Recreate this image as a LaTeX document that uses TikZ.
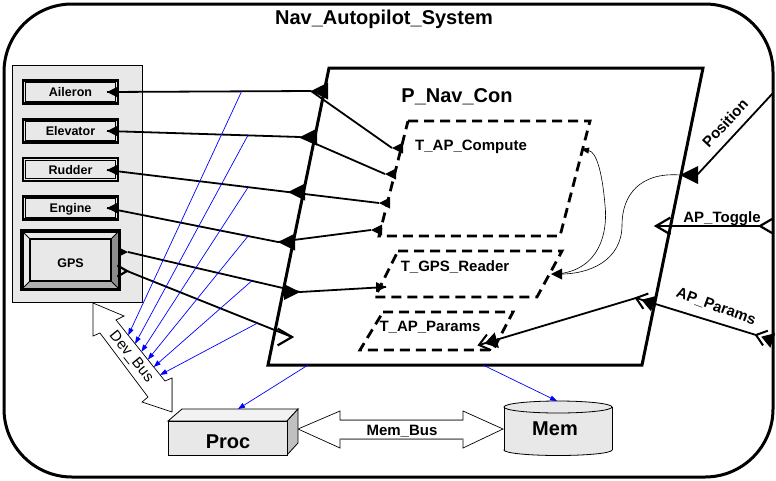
\documentclass[tikz,border=0pt]{standalone}
\usepackage{fontspec}
\setmainfont{Liberation Sans}
\usetikzlibrary{arrows.meta,calc}
\definecolor{devgray}{HTML}{E8E8E8}
\definecolor{bevel}{HTML}{8C8C8C}
\definecolor{sidegray}{HTML}{C0C0C0}
\definecolor{topgray}{HTML}{F2F2F2}

\tikzset{
  conn/.style={line width=1.8pt},
  thread/.style={line width=2.8pt, dash pattern=on 10pt off 6pt},
  bind/.style={blue, line width=.7pt, -{Triangle[length=7pt,width=5pt]}},
  flow/.style={line width=.6pt},
  device/.style={draw, line width=2.6pt, fill=devgray, minimum width=95pt,
    minimum height=23pt, inner sep=0pt, text height=9pt, text depth=0pt,
    font=\bfseries\fontsize{12.5}{14}\selectfont},
  lbl/.style={font=\bfseries\fontsize{15}{17}\selectfont, inner sep=0pt},
  big/.style={font=\bfseries\fontsize{20}{22}\selectfont, inner sep=0pt},
  dport/.pic={\fill (0,0) -- (10,-5) -- (10,5) -- cycle;},
  eport/.pic={\draw[line width=2.2pt] (12,-7) -- (0,0) -- (12,7);},
  edport/.pic={\draw[line width=2pt] (9,-7) -- (0,0) -- (9,7);
    \fill (5,0) -- (16,-7) -- (16,7) -- cycle;}
}

\begin{document}
\begin{tikzpicture}[x=1pt,y=-1pt]
    \useasboundingbox (0,0) rectangle (776,480);

    \draw[line width=3pt, rounded corners=68pt] (4,4) rectangle (773,477);
    \node[big, anchor=base] (sys) at (384,24) {Nav\_Autopilot\_System};

    \draw[fill=devgray, line width=.8pt] (12,65) rectangle (142,302);
    \node[device] (ail) at (70.5,92) {Aileron};
    \node[device] (elev) at (70.5,131) {Elevator};
    \node[device] (rud) at (70.5,169.5) {Rudder};
    \node[device] (eng) at (70.5,208) {Engine};
    \foreach \d in {ail,elev,rud,eng}
        \draw[line width=.9pt] ([shift={(3.5,3.5)}]\d.north west) rectangle ([shift={(-3.5,-3.5)}]\d.south east);

    \node[draw, line width=2.6pt, fill=devgray, minimum width=95pt, minimum height=56pt] (gps) at (70.5,260) {};
    \fill[bevel] (118,232) -- (118,288) -- (111,281) -- (111,239) -- cycle;
    \fill[bevel!70] (23,288) -- (118,288) -- (111,281) -- (30,281) -- cycle;
    \draw[line width=1.6pt] (30,239) rectangle (111,281);
    \draw[line width=.8pt] (23,232) -- (30,239) (118,232) -- (111,239) (23,288) -- (30,281) (118,288) -- (111,281);
    \draw[line width=2.6pt] (gps.north west) rectangle (gps.south east);
    \node[font=\bfseries\fontsize{12.5}{14}\selectfont, anchor=base] (gpsl) at (70.5,267) {GPS};

    \draw[line width=3pt, fill=white] (329,68) -- (703,68) -- (642,365) -- (268,365) -- cycle;
    \node[big, anchor=base] (pnav) at (457,102) {P\_Nav\_Con};

    \draw[thread] (408,121) -- (590,121) -- (560,236) -- (379,236) -- cycle;
    \node[lbl, anchor=base] (tcomp) at (471,150) {T\_AP\_Compute};
    \draw[thread] (398,251) -- (562,251) -- (537,297) -- (375,297) -- cycle;
    \node[lbl, anchor=base] (tgps) at (455,271.5) {T\_GPS\_Reader};
    \draw[thread] (383,312) -- (513,312) -- (493,350) -- (360,350) -- cycle;
    \node[lbl, anchor=base] (tparams) at (430,331.5) {T\_AP\_Params};

    \coordinate (ailIn) at (107,92);
    \coordinate (elevIn) at (107,131);
    \coordinate (rudIn) at (107,170);
    \coordinate (engIn) at (107,208);
    \coordinate (pAil) at (311,91);
    \coordinate (pElev) at (300,137);
    \coordinate (pRud) at (288,192);
    \coordinate (pEng) at (278,242);
    \coordinate (tAil) at (392,148);
    \coordinate (tElev) at (385,174);
    \coordinate (tRud) at (379,203);
    \coordinate (tEng) at (371,230);
    \coordinate (gpsOut) at (128,252);
    \coordinate (gpsEv) at (127,271);
    \coordinate (pGps) at (300,292);
    \coordinate (tGpsIn) at (386,287);
    \coordinate (pGpsEv) at (292,337);
    \coordinate (pPos) at (680,175);
    \coordinate (sysPos) at (773,93);
    \coordinate (tGpsOut) at (557,274);
    \coordinate (tCompIn) at (581,149);
    \coordinate (sysTog) at (760,226);
    \coordinate (pTog) at (656,226);
    \coordinate (sysPar) at (756,335);
    \coordinate (pPar) at (636,298);
    \coordinate (tPar) at (479,345);

    \draw[conn] (pAil) -- (ailIn) coordinate[pos=.34] (bAil);
    \draw[conn] (pElev) -- (elevIn) coordinate[pos=.27] (bElev);
    \draw[conn] (pRud) -- (rudIn) coordinate[pos=.22] (bRud);
    \draw[conn] (pEng) -- (engIn) coordinate[pos=.175] (bEng);
    \draw[conn] (pAil) -- (tAil);
    \draw[conn] (pElev) -- (tElev);
    \draw[conn] (pRud) -- (tRud);
    \draw[conn] (pEng) -- (tEng);
    \draw[conn] (gpsOut) -- (pGps) coordinate[pos=.72] (bGps);
    \draw[conn] (pGps) -- (tGpsIn);
    \draw[conn] (gpsEv) -- (pGpsEv) coordinate[pos=.79] (bGpsEv);
    \draw[conn] (sysPos) -- ([xshift=17pt]pPos);
    \draw[conn] (sysTog) -- (pTog);
    \draw[conn] (sysPar) -- (pPar);
    \draw[conn] (pPar) -- (tPar);

    \draw[flow] (pPos) .. controls (640,172) and (622,195) .. (622,225) .. controls (622,260) and (590,275) .. (tGpsOut);
    \draw[flow, -{Triangle[length=8pt,width=6pt]}] (tGpsOut) .. controls (600,270) and (608,232) .. (605,205) .. controls (602,170) and (596,152) .. (tCompIn);

    \foreach \p in {ailIn,elevIn,rudIn,engIn}
        \pic at (\p) {dport};
    \foreach \p in {pAil,pElev,pRud,pEng}
        \pic[scale=1.7] at (\p) {dport};
    \foreach \p in {tAil,tElev,tRud,tEng}
        \pic[scale=1.1] at (\p) {dport};
    \pic[rotate=180] at (gpsOut) {dport};
    \pic[rotate=180, scale=.8] at (gpsEv) {eport};
    \pic[rotate=180, scale=1.6] at (pGps) {dport};
    \pic[rotate=180] at (tGpsIn) {dport};
    \pic[rotate=180, scale=1.2] at (pGpsEv) {eport};
    \pic[scale=1.8] at (pPos) {dport};
    \pic[scale=1.1] at ([xshift=-6pt]tGpsOut) {dport};
    \pic at (sysTog) {eport};
    \pic[scale=1.2] at (pTog) {eport};
    \pic[rotate=-18, scale=1.1] at (sysPar) {edport};
    \pic[rotate=-18, scale=1.15] at (pPar) {edport};
    \pic[rotate=15, scale=1.15] at (tPar) {edport};

    \node[lbl, rotate=47] (lpos) at (725,123) {Position};
    \node[lbl, anchor=base] (ltog) at (722,222) {AP\_Toggle};
    \node[lbl, rotate=-20] (lpar) at (716,307) {AP\_Params};

    \coordinate (db1) at (116,320);
    \coordinate (db2) at (165,381);
    \draw[line width=.7pt, fill=white] (93,303) -- (124,316) -- (db1) -- (db2) -- (172,378) -- (172,412) -- (142,402) -- (148,397) -- (100,333) -- (93,336) -- cycle;
    \draw[gray, line width=.8pt] (172,378) -- (172,412);
    \node[font=\fontsize{15}{17}\selectfont, inner sep=0pt, rotate=-51] (ldev) at (131,357) {Dev\_Bus};

    \draw[line width=.7pt, fill=white] (298,429) -- (340,411) -- (340,420) -- (463,420) -- (463,411) -- (503,429) -- (463,448) -- (463,439) -- (340,439) -- (340,448) -- cycle;
    \draw[gray, line width=1pt] (340,420) -- (463,420) (340,439) -- (463,439);
    \node[lbl, anchor=base] (lmem) at (402,435) {Mem\_Bus};

    \filldraw[fill=topgray, line width=.8pt] (168,421) -- (182,409) -- (298,409) -- (287,421) -- cycle;
    \filldraw[fill=sidegray, line width=.8pt] (287,421) -- (298,409) -- (298,443) -- (287,455) -- cycle;
    \node[draw, line width=.8pt, fill=devgray, minimum width=119pt, minimum height=34pt, inner sep=0pt] (proc) at (227.5,438) {};
    \node[big, anchor=base] (procl) at (228,448) {Proc};

    \fill[devgray] (504,407) rectangle (612,450);
    \filldraw[fill=devgray, line width=.8pt] (558,450) ellipse (54 and 5.5);
    \fill[devgray] (504.5,407) rectangle (611.5,450);
    \draw[line width=.8pt] (504,407) -- (504,450) (612,407) -- (612,450);
    \filldraw[fill=devgray, line width=.8pt] (558,407) ellipse (54 and 6);
    \node[big, anchor=base] (mem) at (555,435) {Mem};

    \coordinate (procTop) at (238,409);
    \coordinate (memTop) at (557,401);
    \coordinate (pBot1) at (308,365);
    \coordinate (pBot2) at (483,365);
    \foreach \s/\t in {bAil/.25,bElev/.39,bRud/.52,bEng/.65,bGps/.77,bGpsEv/.9}
        \draw[bind] (\s) -- ($(db1)!\t!(db2)$);
    \draw[bind] (pBot1) -- (procTop);
    \draw[bind] (pBot2) -- (memTop);

\end{tikzpicture}
\end{document}
